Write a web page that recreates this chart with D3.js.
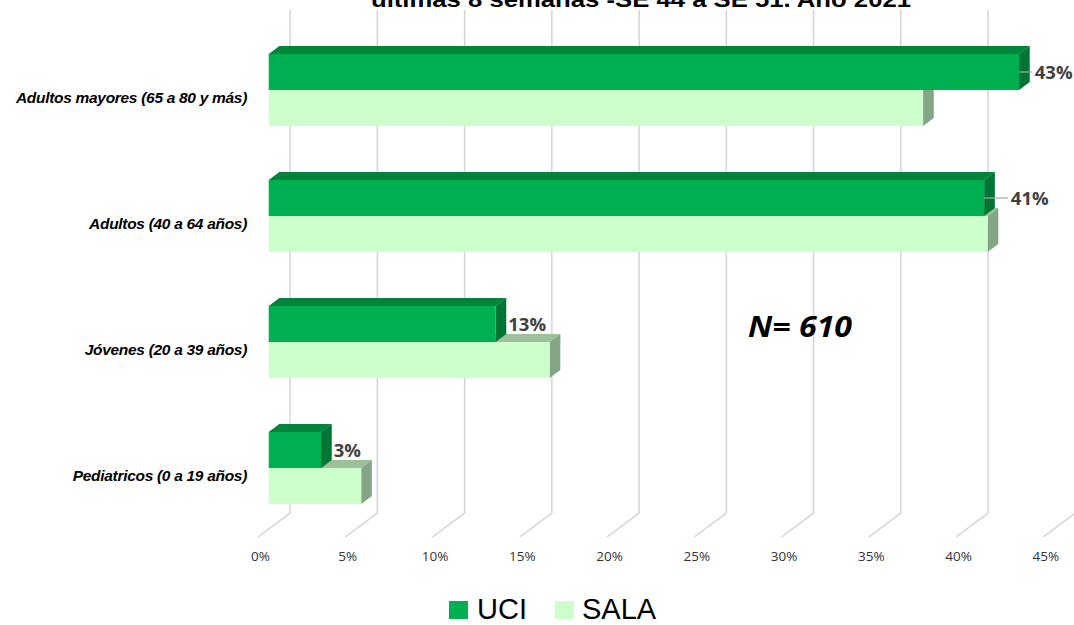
<!DOCTYPE html>
<html>
<head>
<meta charset="utf-8">
<script src="https://cdn.jsdelivr.net/npm/d3@7"></script>
<style>
  html, body { margin: 0; padding: 0; background: #ffffff; }
  svg { display: block; }
</style>
</head>
<body>
<script>
// Hospitalized patients by age group, ICU (UCI) vs. ward (SALA), share in %
const categories = [
  "Adultos mayores (65 a 80 y más)",
  "Adultos (40 a 64 años)",
  "Jóvenes (20 a 39 años)",
  "Pediatricos (0 a 19 años)"
];
const uciValues = [43, 41, 13, 3];
const salaValues = [37.5, 41.2, 16.1, 5.3];
const seriesNames = ["UCI", "SALA"];
const tickValues = [0, 5, 10, 15, 20, 25, 30, 35, 40, 45];
const titleText = "últimas 8 semanas -SE 44 a SE 51. Año 2021";
const noteText = "N= 610";

const W = 1074, H = 625;
const svg = d3.select("body").append("svg").attr("width", W).attr("height", H);

// Oblique 3D projection: one depth unit shifts right and up
const DX = 10.7, DY = -8;
const floorDepth = 3;             // gap + bar + gap
const barDepth = 1;               // bars sit one unit behind the front
const floorY = 537;               // front edge of the floor
const wallTop = 10;

const x = d3.scaleLinear().domain([0, 45]).range([258, 258 + 45 * 17.45]);
const y = d3.scaleBand().domain(categories).range([35, 539])
  .paddingInner(54 / 126).paddingOuter(27 / 126);
const sub = d3.scaleBand().domain(seriesNames).range([0, y.bandwidth()]);

const colors = {
  UCI:  { front: "#00b050", top: "#00833b", side: "#007535" },
  SALA: { front: "#ccffcc", top: "#9dbf9b", side: "#85a685" }
};

// Gridlines: floor diagonals plus vertical lines on the back wall
const grid = svg.append("g").attr("stroke", "#d4d4d4").attr("stroke-width", 1.5).attr("fill", "none");
tickValues.forEach(t => {
  const fx = x(t), bx = x(t) + DX * floorDepth, by = floorY + DY * floorDepth;
  grid.append("path").attr("d", `M${fx},${floorY}L${bx},${by}L${bx},${wallTop}`);
});

// Tick labels along the front edge of the floor
const axis = d3.axisBottom(x).tickValues(tickValues).tickSize(0).tickPadding(0)
  .tickFormat(d => d + "%");
const gAxis = svg.append("g").attr("transform", `translate(2,${floorY + 14})`).call(axis);
gAxis.select(".domain").remove();
gAxis.selectAll("text")
  .attr("font-family", "'Open Sans', 'Liberation Sans', sans-serif")
  .attr("font-size", 13.5).attr("fill", "#333333");

// 3D bar: front face, top face and right side face
function bar3d(g, v, y0, h, c) {
  const ox = DX * barDepth, oy = DY * barDepth;
  const x0 = x(0) + ox, x1 = x(v) + ox, yt = y0 + oy, yb = yt + h;
  g.append("path").attr("fill", c.top)
    .attr("d", `M${x0},${yt}L${x0 + DX},${yt + DY}L${x1 + DX},${yt + DY}L${x1},${yt}Z`);
  g.append("path").attr("fill", c.side)
    .attr("d", `M${x1},${yt}L${x1 + DX},${yt + DY}L${x1 + DX},${yb + DY}L${x1},${yb}Z`);
  g.append("rect").attr("fill", c.front)
    .attr("x", x0).attr("y", yt).attr("width", x1 - x0).attr("height", h);
}

const bars = svg.append("g");
categories.forEach((cat, i) => {
  const g = bars.append("g");
  // ward bar first, so the ICU bar above covers its top face
  bar3d(g, salaValues[i], y(cat) + sub("SALA"), sub.bandwidth(), colors.SALA);
  bar3d(g, uciValues[i], y(cat) + sub("UCI"), sub.bandwidth(), colors.UCI);
});

// Value labels for the ICU series
const labels = svg.append("g");
categories.forEach((cat, i) => {
  const v = uciValues[i];
  const cy = y(cat) + sub("UCI") + DY * barDepth + sub.bandwidth() / 2;
  const frontEnd = x(v) + DX * barDepth;
  const hasLeader = v > 30;
  const tx = frontEnd + DX + (hasLeader ? (v > 42 ? 5 : 16) : 2);
  if (hasLeader) {
    labels.append("line").attr("x1", frontEnd).attr("x2", tx - 3)
      .attr("y1", cy).attr("y2", cy).attr("stroke", "#a6a6a6").attr("stroke-width", 1.2);
  }
  labels.append("text").attr("x", tx).attr("y", cy).attr("dy", "0.36em")
    .attr("font-family", "'Open Sans', 'Liberation Sans', sans-serif")
    .attr("font-weight", "bold").attr("font-size", 18.5).attr("fill", "#404040")
    .text(d3.format(".0f")(v) + "%");
});

// Category labels
const catAxis = svg.append("g");
categories.forEach(cat => {
  catAxis.append("text").attr("x", 247).attr("y", y(cat) + y.bandwidth() / 2)
    .attr("dy", "0.35em").attr("text-anchor", "end")
    .attr("font-family", "'Liberation Sans', Arial, sans-serif")
    .attr("font-style", "italic").attr("font-weight", "bold")
    .attr("font-size", 15.5).attr("letter-spacing", -0.3).attr("fill", "#000000")
    .text(cat);
});

// Sample size note
svg.append("text").attr("x", 800).attr("y", 327).attr("dy", "0.35em")
  .attr("text-anchor", "middle")
  .attr("font-family", "'Open Sans', 'Liberation Sans', sans-serif")
  .attr("font-style", "italic").attr("font-weight", "bold")
  .attr("font-size", 28).attr("fill", "#000000")
  .attr("textLength", 104).attr("lengthAdjust", "spacingAndGlyphs")
  .text(noteText);

// Title (second line)
svg.append("text").attr("x", 641).attr("y", 7).attr("text-anchor", "middle")
  .attr("font-family", "'Liberation Sans', Arial, sans-serif")
  .attr("font-weight", "bold").attr("font-size", 22).attr("fill", "#000000")
  .attr("textLength", 540).attr("lengthAdjust", "spacingAndGlyphs")
  .text(titleText);

// Legend
const legend = svg.append("g").attr("font-family", "'Liberation Sans', Arial, sans-serif");
const legendItems = [
  { name: seriesNames[0], sx: 449, tx: 477 },
  { name: seriesNames[1], sx: 555, tx: 582 }
];
legendItems.forEach(it => {
  legend.append("rect").attr("x", it.sx).attr("y", 601).attr("width", 19).attr("height", 18)
    .attr("fill", colors[it.name].front);
  legend.append("text").attr("x", it.tx).attr("y", 619)
    .attr("font-size", 29).attr("fill", "#000000").text(it.name);
});
</script>
</body>
</html>
